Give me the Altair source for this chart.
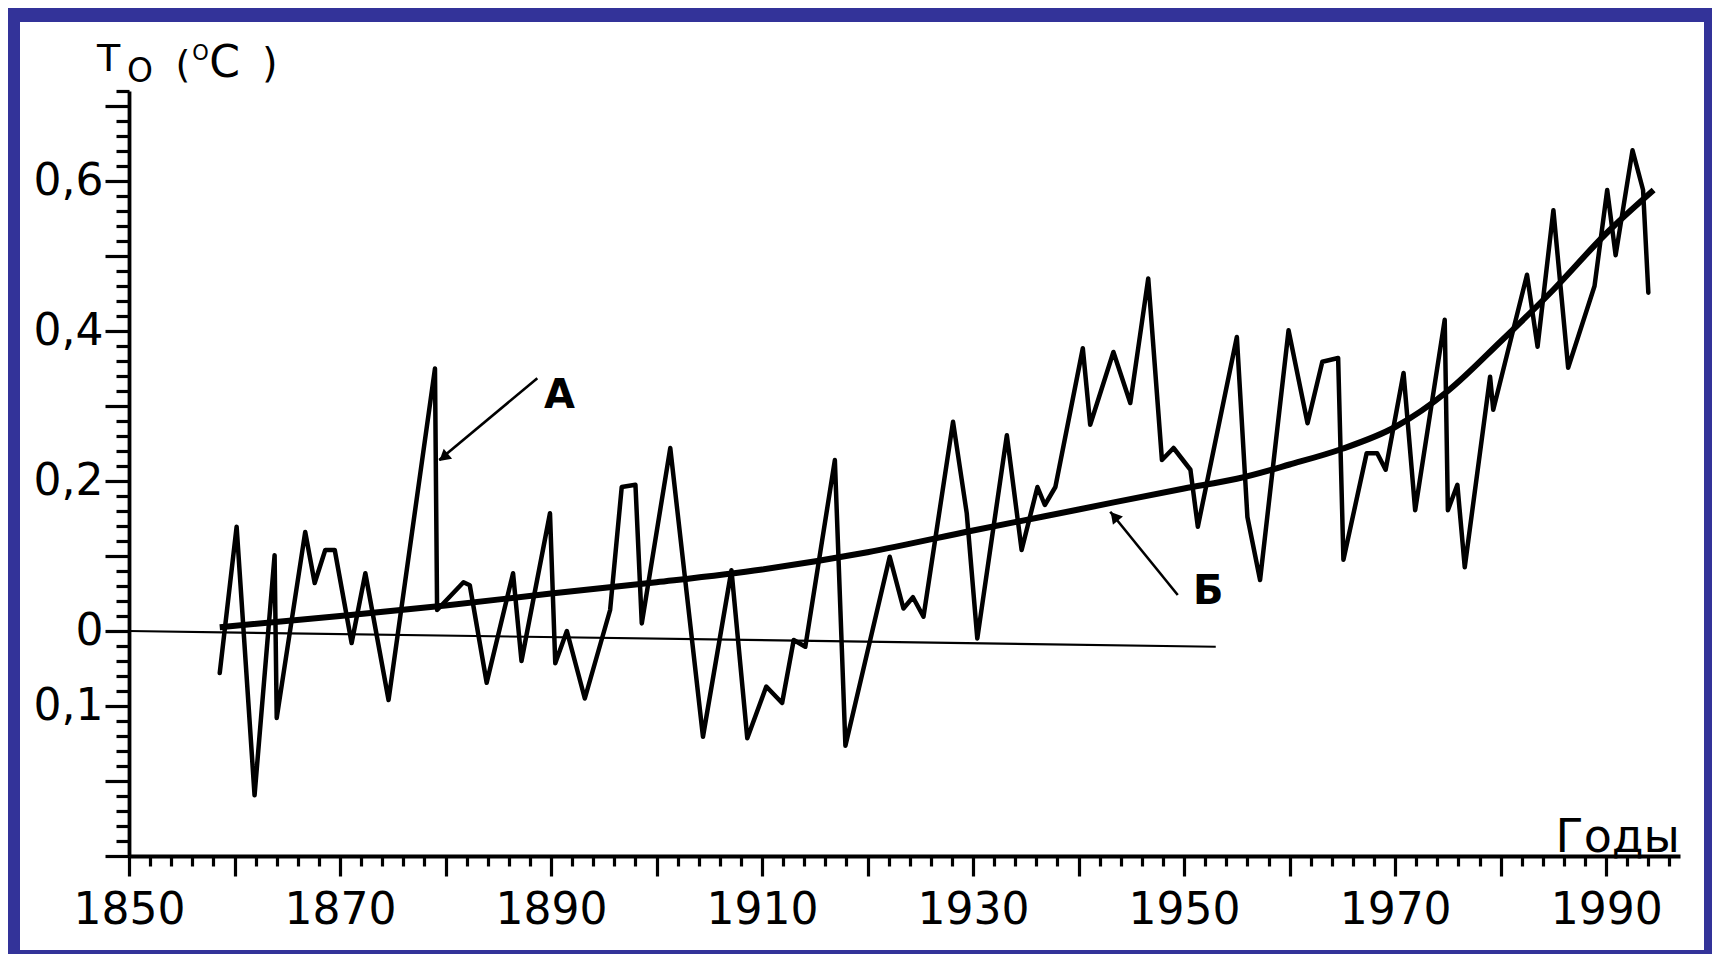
import altair as alt
import pandas as pd

# ---- data ----
years_a = [1858.6, 1860.2, 1861.9, 1863.8, 1864.0, 1866.7, 1867.6, 1868.6, 1869.5, 1871.1,
           1872.4, 1874.6, 1879.0, 1879.2, 1881.7, 1882.3, 1883.9, 1886.4, 1887.2, 1889.9,
           1890.4, 1891.5, 1893.2, 1895.6, 1896.7, 1898.0, 1898.6, 1901.3, 1904.4, 1907.1,
           1908.6, 1910.4, 1911.9, 1913.0, 1914.1, 1916.9, 1917.9, 1922.1, 1923.4, 1924.3,
           1925.3, 1928.1, 1929.4, 1930.4, 1933.2, 1934.6, 1936.1, 1936.8, 1937.8, 1940.4,
           1941.1, 1943.3, 1944.9, 1946.6, 1947.9, 1949.0, 1950.6, 1951.3, 1955.0, 1956.0,
           1957.2, 1959.9, 1961.7, 1963.1, 1964.6, 1965.1, 1967.3, 1968.3, 1969.1, 1970.8,
           1971.9, 1974.7, 1975.0, 1975.9, 1976.6, 1979.0, 1979.3, 1982.5, 1983.5, 1985.0,
           1986.4, 1988.9, 1990.1, 1990.9, 1992.5, 1993.5, 1994.0]
temp_a = [-0.056, 0.139, -0.219, 0.101, -0.116, 0.132, 0.064, 0.108, 0.108, -0.016,
          0.077, -0.092, 0.350, 0.028, 0.065, 0.061, -0.069, 0.077, -0.040, 0.157,
          -0.043, 0.000, -0.090, 0.028, 0.192, 0.195, 0.010, 0.244, -0.141, 0.081,
          -0.143, -0.074, -0.096, -0.012, -0.021, 0.228, -0.153, 0.099, 0.030, 0.045,
          0.019, 0.279, 0.157, -0.010, 0.261, 0.108, 0.192, 0.168, 0.192, 0.377,
          0.275, 0.372, 0.304, 0.470, 0.228, 0.244, 0.215, 0.139, 0.392, 0.152,
          0.068, 0.401, 0.277, 0.359, 0.364, 0.095, 0.237, 0.237, 0.215, 0.344,
          0.161, 0.415, 0.161, 0.195, 0.085, 0.339, 0.295, 0.475, 0.379, 0.561,
          0.351, 0.460, 0.588, 0.501, 0.641, 0.588, 0.451]

years_b = [1858.6, 1870, 1880, 1890, 1900, 1910, 1920, 1930, 1940, 1950,
           1955, 1960, 1965, 1970, 1975, 1980, 1985, 1990, 1994.5]
trend_b = [0.005, 0.020, 0.034, 0.050, 0.065, 0.082, 0.105, 0.134, 0.162, 0.190,
           0.203, 0.222, 0.243, 0.272, 0.320, 0.386, 0.455, 0.530, 0.588]

zero_years = [1850, 1953]
zero_vals = [0.0, -0.021]

# annotation arrows (start -> tip) and letters
arrow_x0 = [1888.7, 1949.4]
arrow_y0 = [0.337, 0.048]
arrow_x1 = [1879.4, 1943.0]
arrow_y1 = [0.228, 0.159]
head_x = [1879.95, 1943.5]
head_y = [0.233, 0.151]
head_angle = [230, 320]
letter_text = ["А", "Б"]
letter_x = [1890.8, 1952.3]
letter_y = [0.313, 0.052]

# axis title pieces  T_o (°C)
title_text = ["T", "O", "(", "O", "C", ")"]
title_x = [1846.97, 1849.8, 1854.4, 1856.0, 1857.6, 1862.6]
title_y = [0.747, 0.732, 0.739, 0.761, 0.739, 0.739]
title_size = [38, 33, 38, 21, 44, 40]

years_label = ["Годы"]
years_label_x = [1991.1]
years_label_y = [-0.295]

x_ticks = list(range(1850, 1997, 2))
y_ticks = [round(-0.30 + 0.02 * i, 2) for i in range(52)]
y_label_values = [0.6, 0.4, 0.2, 0.0, -0.1]
y_label_texts = ["0,6", "0,4", "0,2", "0", "0,1"]

# ---- chart ----
FONT = "DejaVu Sans"

y_expr = ""
for v, t in zip(y_label_values, y_label_texts):
    y_expr += f"abs(datum.value - ({v})) < 0.001 ? '{t}' : "
y_expr += "''"

x_scale = alt.Scale(domain=[1850, 1997], nice=False, zero=False)
y_scale = alt.Scale(domain=[-0.30, 0.72], nice=False, zero=False)

x_axis = alt.Axis(
    values=x_ticks, title=None, grid=False,
    labelExpr="(datum.value - 1850) % 20 === 0 ? '' + datum.value : ''",
    labelFont=FONT, labelFontSize=44, labelColor="black", labelPadding=12,
    labelOverlap=False, labelFlush=False, labelBound=False,
    tickColor="black", tickWidth=3.2,
    tickSize={"condition": {"test": "datum.value % 10 === 0", "value": 20}, "value": 10},
    domainColor="black", domainWidth=3.8, zindex=1,
)
y_axis = alt.Axis(
    values=y_ticks, title=None, grid=False,
    labelExpr=y_expr,
    labelFont=FONT, labelFontSize=44, labelColor="black", labelPadding=2,
    labelOverlap=False, labelFlush=False, labelBound=False,
    tickColor="black", tickWidth=3.2,
    tickSize={"condition": {"test": "abs(datum.value*10 - round(datum.value*10)) < 0.01", "value": 24}, "value": 13},
    domainColor="black", domainWidth=3.8, zindex=1,
)

X = lambda f: alt.X(f, type="quantitative", scale=x_scale, axis=x_axis)
Y = lambda f: alt.Y(f, type="quantitative", scale=y_scale, axis=y_axis)

W, H = 1551, 765

bg = alt.Chart(pd.DataFrame({"a": [0]})).mark_rect(color="white").encode(
    x=alt.value(-109), x2=alt.value(1575), y=alt.value(-69), y2=alt.value(859)
)

df_zero = pd.DataFrame({"year": zero_years, "v": zero_vals})
zero = alt.Chart(df_zero).mark_line(color="black", strokeWidth=2.2).encode(x=X("year"), y=Y("v"))

df_b = pd.DataFrame({"year": years_b, "v": trend_b})
trend = alt.Chart(df_b).mark_line(color="black", strokeWidth=6, interpolate="monotone").encode(
    x=X("year"), y=Y("v"))

df_a = pd.DataFrame({"year": years_a, "v": temp_a})
series = alt.Chart(df_a).mark_line(color="black", strokeWidth=4.5, strokeJoin="round",
                                   strokeCap="round").encode(x=X("year"), y=Y("v"))

df_arrow = pd.DataFrame({"x0": arrow_x0, "y0": arrow_y0, "x1": arrow_x1, "y1": arrow_y1})
arrows = alt.Chart(df_arrow).mark_rule(color="black", strokeWidth=2.6).encode(
    x=X("x0"), y=Y("y0"), x2="x1", y2="y1")

df_head = pd.DataFrame({"x": head_x, "y": head_y, "ang": head_angle})
heads = alt.Chart(df_head).mark_point(shape="triangle", filled=True, color="black", size=170, opacity=1).encode(
    x=X("x"), y=Y("y"), angle=alt.Angle("ang:Q", scale=None))

df_letters = pd.DataFrame({"x": letter_x, "y": letter_y, "t": letter_text})
letters = alt.Chart(df_letters).mark_text(font=FONT, fontWeight="bold", fontSize=40, color="black",
                                          align="center", baseline="middle").encode(
    x=X("x"), y=Y("y"), text="t:N")

df_title = pd.DataFrame({"x": title_x, "y": title_y, "t": title_text, "s": title_size})
title = alt.Chart(df_title).mark_text(font=FONT, color="black", align="left", baseline="alphabetic").encode(
    x=X("x"), y=Y("y"), text="t:N", size=alt.Size("s:Q", scale=None))

df_years = pd.DataFrame({"x": years_label_x, "y": years_label_y, "t": years_label})
years_txt = alt.Chart(df_years).mark_text(font=FONT, fontSize=46, color="black",
                                          align="center", baseline="alphabetic").encode(
    x=X("x"), y=Y("y"), text="t:N")

chart = alt.layer(bg, zero, trend, series, arrows, heads, letters, title, years_txt).properties(
    width=W, height=H,
    autosize=alt.AutoSizeParams(type="none"),
    padding={"left": 121, "top": 83, "right": 32, "bottom": 98},
).configure(background="#333399").configure_view(stroke=None)

chart.save("out.html", embed_options={"renderer": "svg", "actions": False})
